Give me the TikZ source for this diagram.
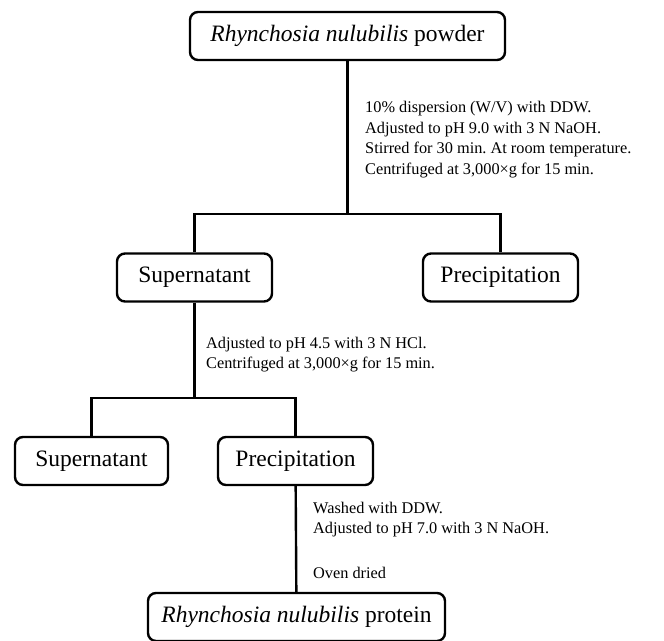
\documentclass[tikz,border=0pt]{standalone}
\usepackage{fontspec}
\setmainfont{Liberation Serif}
\frenchspacing
\tikzset{
	link/.style={draw=black,line width=2.4pt},
	note/.style={anchor=north west,align=left,inner sep=0pt,font=\fontsize{16.3}{20.5}\selectfont}
}
\begin{document}
\begin{tikzpicture}[x=1pt,y=-1pt]
	\useasboundingbox (0,0) rectangle (664,640);
	\begin{scope}[every node/.style={draw,line width=2.4pt,rounded corners=8pt,inner xsep=4pt,minimum height=48pt,font=\fontsize{23.5}{28}\selectfont}]
		\node[minimum width=315pt] (powder) at (347.5,36) {\textit{Rhynchosia nulubilis} powder};
		\node[minimum width=155pt] (sup1) at (194.5,277.5) {Supernatant};
		\node[minimum width=155pt] (pre1) at (500.5,277.5) {Precipitation};
		\node[minimum width=153pt] (sup2) at (91.5,461) {Supernatant};
		\node[minimum width=155pt] (pre2) at (295.5,461) {Precipitation};
		\node[minimum width=297pt] (protein) at (296.5,617) {\textit{Rhynchosia nulubilis} protein};
	\end{scope}
	\coordinate (s1) at (347.5,214);
	\coordinate (s2) at (194.5,398);
	% branches
	\draw[link] (powder) -- (s1);
	\draw[link] (sup1.north) |- (s1) -| (pre1.north);
	\draw[link] (sup1) -- (s2);
	\draw[link] (sup2.north) |- (s2) -| (pre2.north);
	\draw[link] (pre2) -- (protein);
	% treatment notes
	\node[note] (step1) at (365,101) {10\% dispersion (W/V) with DDW.\\ Adjusted to pH 9.0 with 3 N NaOH.\\ Stirred for 30 min. At room temperature.\\ Centrifuged at 3,000×g for 15 min.};
	\node[note] (step2) at (206,336.5) {Adjusted to pH 4.5 with 3 N HCl.\\ Centrifuged at 3,000×g for 15 min.};
	\node[note] (step3) at (313,501.5) {Washed with DDW.\\ Adjusted to pH 7.0 with 3 N NaOH.\\[24pt] Oven dried};
\end{tikzpicture}
\end{document}
